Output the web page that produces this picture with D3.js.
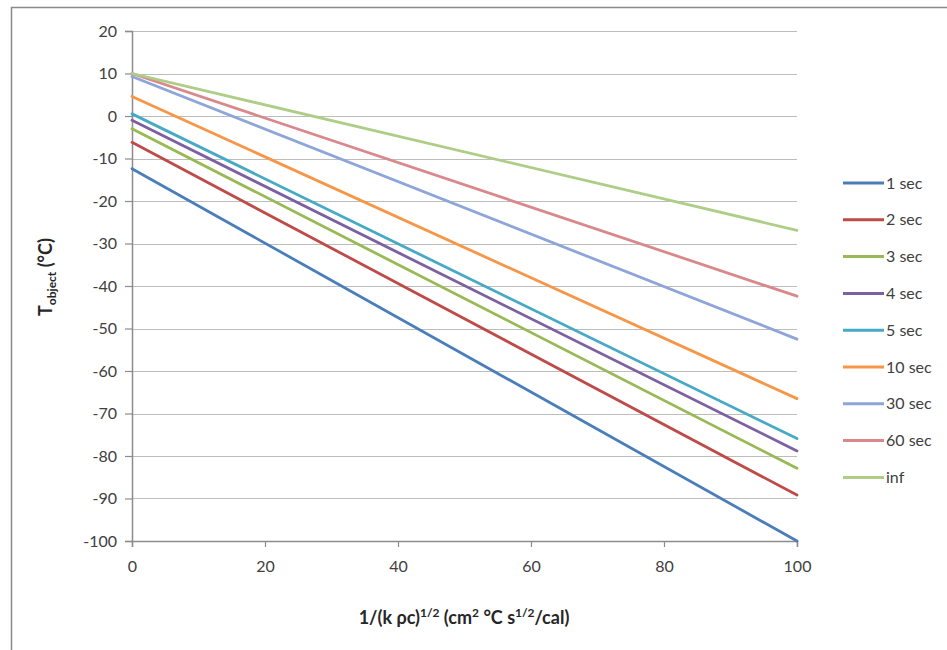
<!DOCTYPE html>
<html><head><meta charset="utf-8">
<script src="https://cdn.jsdelivr.net/npm/d3@7"></script>
<style>body{margin:0;background:#fff}svg{display:block}</style>
</head><body>
<svg id="c" width="947" height="650"></svg>
<script>
const xValues = [0, 100];
const seriesNames = ["1 sec","2 sec","3 sec","4 sec","5 sec","10 sec","30 sec","60 sec","inf"];
const s1 = [-12.4, -100];
const s2 = [-6.2, -89.2];
const s3 = [-3, -82.9];
const s4 = [-1, -78.8];
const s5 = [0.5, -75.9];
const s10 = [4.6, -66.5];
const s30 = [9.3, -52.5];
const s60 = [10, -42.4];
const sInf = [10, -26.9];
const seriesValues = [s1, s2, s3, s4, s5, s10, s30, s60, sInf];
const colors = ["#4A7EBB","#BE4B48","#98B954","#7D60A0","#46AAC5","#F79646","#8EA5D9","#D9898B","#AECD86"];
const yTicks = [20,10,0,-10,-20,-30,-40,-50,-60,-70,-80,-90,-100];
const xTicks = [0,20,40,60,80,100];

const svg = d3.select("#c");
const font = "Lato, 'Open Sans', sans-serif";
// frame
svg.append("path").attr("d","M11.5,650 V7.5 H947").attr("fill","none").attr("stroke","#8a8a8a").attr("stroke-width",1.5);

const x = d3.scaleLinear().domain([0,100]).range([132,797]);
const y = d3.scaleLinear().domain([-100,20]).range([541,31]);

// gridlines
svg.append("g").selectAll("line").data(yTicks.filter(d=>d>-100)).join("line")
  .attr("x1",x(0)).attr("x2",x(100)).attr("y1",d=>Math.round(y(d))+0.5).attr("y2",d=>Math.round(y(d))+0.5)
  .attr("stroke","#bdbdbd").attr("stroke-width",1.2);

// y axis
const ya = svg.append("g").attr("transform",`translate(${x(0)},0)`)
  .call(d3.axisLeft(y).tickValues(yTicks).tickSize(7).tickPadding(8).tickFormat(d=>String(d)));
// x axis
const xa = svg.append("g").attr("transform",`translate(0,${y(-100)})`)
  .call(d3.axisBottom(x).tickValues(xTicks).tickSize(6).tickPadding(14).tickFormat(d=>String(d)));
[ya,xa].forEach(a=>{
  a.select(".domain").attr("stroke","#8c8c8c").attr("stroke-width",1.5);
  a.selectAll(".tick line").attr("stroke","#8c8c8c").attr("stroke-width",1.2);
  a.selectAll(".tick text").attr("fill","#404040").style("font-family",font).style("font-size","16px");
});

// lines
const line = d3.line().x((d,i)=>x(xValues[i])).y(d=>y(d));
svg.append("g").selectAll("path").data(seriesValues).join("path")
  .attr("d",d=>line(d)).attr("fill","none")
  .attr("stroke",(d,i)=>colors[i]).attr("stroke-width",2.8).attr("stroke-linecap","round");

// legend
const lg = svg.append("g");
seriesNames.forEach((n,i)=>{
  const yy = 183 + i*36.8;
  lg.append("line").attr("x1",843).attr("x2",884).attr("y1",yy).attr("y2",yy)
    .attr("stroke",colors[i]).attr("stroke-width",3);
  lg.append("text").attr("x",886).attr("y",yy+5.5).text(n)
    .attr("fill","#404040").style("font-family",font).style("font-size","16px");
});

// x label
const xl = svg.append("text").attr("x",464).attr("y",624).attr("text-anchor","middle")
  .attr("fill","#262626").style("font-family",font).style("font-size","18px").style("font-weight","bold");
xl.append("tspan").text("1/(k ρc)");
xl.append("tspan").text("1/2").attr("dy",-7).style("font-size","12px");
xl.append("tspan").text(" (cm").attr("dy",7);
xl.append("tspan").text("2").attr("dy",-7).style("font-size","12px");
xl.append("tspan").text(" °C s").attr("dy",7);
xl.append("tspan").text("1/2").attr("dy",-7).style("font-size","12px");
xl.append("tspan").text("/cal)").attr("dy",7);

// y label
const yl = svg.append("text").attr("transform","translate(52,277) rotate(-90)").attr("text-anchor","middle")
  .attr("fill","#262626").style("font-family",font).style("font-size","18px").style("font-weight","bold");
yl.append("tspan").text("T");
yl.append("tspan").text("object").attr("dy",4).style("font-size","12px");
yl.append("tspan").text(" (°C)").attr("dy",-4);
</script>
</body></html>
